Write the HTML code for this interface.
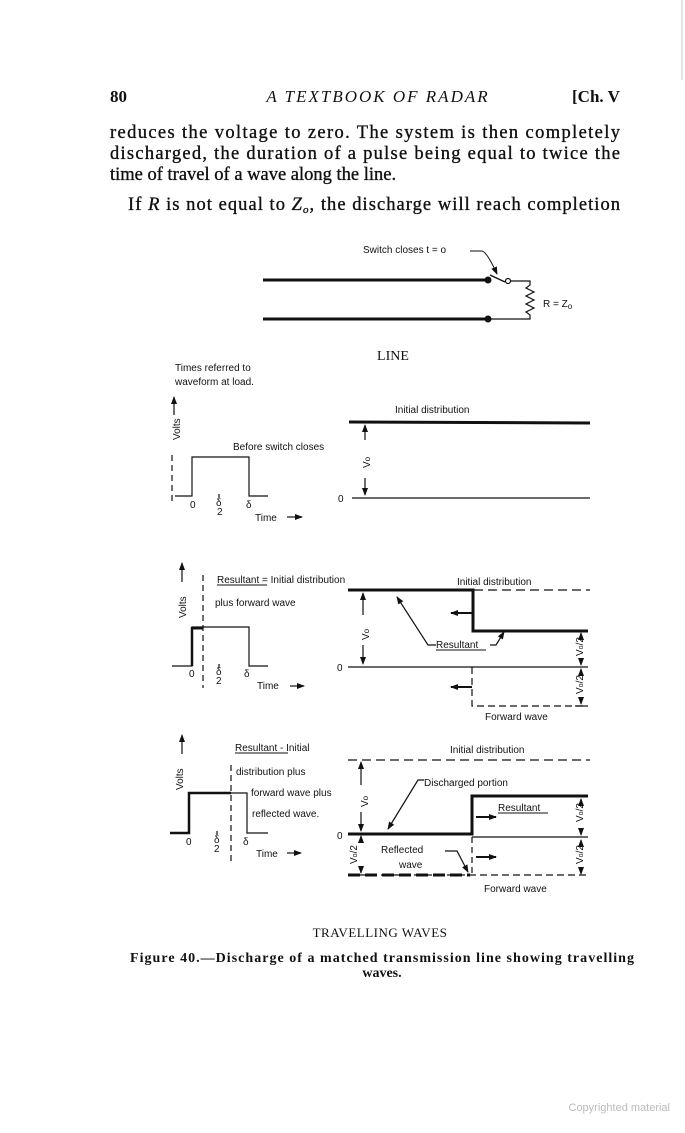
<!DOCTYPE html>
<html><head><meta charset="utf-8"><style>
html,body{margin:0;padding:0;background:#fff;}
svg{display:block;}
.s{font-family:"Liberation Serif",serif;fill:#111;}
.d{font-family:"Liberation Sans",sans-serif;fill:#111;font-size:10px;}
</style></head><body>
<svg width="685" height="1133" viewBox="0 0 685 1133" xmlns="http://www.w3.org/2000/svg">
<defs>
<marker id="a" markerWidth="8" markerHeight="8" refX="7" refY="4" orient="auto" markerUnits="userSpaceOnUse"><path d="M0,1 L8,4 L0,7 z" fill="#111"/></marker>
</defs>
<line x1="682" y1="0" x2="682" y2="80" stroke="#ccc" stroke-width="1"/>
<!-- header -->
<text class="s" x="110" y="102" font-size="17" font-weight="bold">80</text>
<text class="s" x="378" y="102" font-size="17" font-style="italic" text-anchor="middle" letter-spacing="2">A TEXTBOOK OF RADAR</text>
<text class="s" x="572" y="102" font-size="17" font-weight="bold">[Ch. V</text>
<!-- body -->
<g class="s" font-size="18.5" stroke="#111" stroke-width="0.35">
<text x="110" y="138" textLength="510" lengthAdjust="spacing">reduces the voltage to zero.  The system is then completely</text>
<text x="110" y="159" textLength="510" lengthAdjust="spacing">discharged, the duration of a pulse being equal to twice the</text>
<text x="110" y="180">time of travel of a wave along the line.</text>
<text x="128" y="210" textLength="492" lengthAdjust="spacing">If <tspan font-style="italic">R</tspan> is not equal to <tspan font-style="italic">Z<tspan font-size="11" dy="3">o</tspan></tspan><tspan dy="-3">, the discharge will reach completion</tspan></text>
</g>

<!-- circuit -->
<g stroke="#111" fill="none">
<line x1="263" y1="280" x2="488" y2="280" stroke-width="3"/>
<line x1="263" y1="319" x2="488" y2="319" stroke-width="3"/>
<circle cx="488" cy="280" r="3" fill="#111"/>
<circle cx="488" cy="319" r="3" fill="#111"/>
<line x1="490" y1="275" x2="505" y2="282" stroke-width="1.3"/>
<circle cx="508" cy="281" r="2.5" fill="#fff" stroke-width="1.2"/>
<polyline points="510,281 530,281 530,285 526,288 534,292 526,296 534,300 526,304 534,308 526,312 530,315 530,319 490,319" stroke-width="1.2"/>
<path d="M470,251 L482,251 Q487,252 497,274" stroke-width="1" marker-end="url(#a)"/>
</g>
<text class="d" x="363" y="253">Switch  closes  t = o</text>
<text class="d" x="543" y="307" font-size="11">R = Z<tspan font-size="8" dy="2">o</tspan></text>
<text class="s" x="393" y="360" font-size="14" text-anchor="middle">LINE</text>

<!-- diagram 1 -->
<text class="d" x="175" y="371">Times referred to</text>
<text class="d" x="175" y="385">waveform at load.</text>
<g stroke="#111" fill="none" stroke-width="1.2">
<line x1="174" y1="415" x2="174" y2="397" marker-end="url(#a)"/>
<line x1="172" y1="455" x2="172" y2="505" stroke-dasharray="6,4"/>
<polyline points="175,496 192,496 192,457 249,457 249,496 268,496"/>
<line x1="219" y1="494" x2="219" y2="498"/>
<line x1="349" y1="422" x2="590" y2="423" stroke-width="3"/>
<line x1="352" y1="498" x2="590" y2="498"/>
<line x1="365" y1="440" x2="365" y2="425" marker-end="url(#a)"/>
<line x1="365" y1="478" x2="365" y2="495" marker-end="url(#a)"/>
<line x1="287" y1="517" x2="302" y2="517" marker-end="url(#a)"/>
</g>
<text class="d" transform="translate(180,440) rotate(-90)">Volts</text>
<text class="d" x="233" y="450">Before switch closes</text>
<text class="d" x="190" y="508">0</text><text class="d" x="216" y="506" font-size="8">δ</text><text class="d" x="217" y="515" font-size="8">2</text><text class="d" x="246" y="508">δ</text>
<text class="d" x="255" y="521">Time</text>
<text class="d" x="395" y="413">Initial  distribution</text>
<text class="d" x="338" y="502">0</text>
<text class="d" transform="translate(370,468) rotate(-90)">V<tspan font-size="8">o</tspan></text>

<!-- diagram 2 -->
<g stroke="#111" fill="none" stroke-width="1.2">
<line x1="182" y1="582" x2="182" y2="563" marker-end="url(#a)"/>
<line x1="203" y1="575" x2="203" y2="688" stroke-dasharray="6,4"/>
<polyline points="172,666 192,666 192,627 249,627 249,666 268,666"/>
<line x1="192" y1="628" x2="203" y2="628" stroke-width="3"/>
<line x1="192" y1="627" x2="192" y2="666" stroke-width="2.5"/>
<line x1="219" y1="664" x2="219" y2="668"/>
<line x1="290" y1="686" x2="304" y2="686" marker-end="url(#a)"/>
<line x1="348" y1="590" x2="590" y2="590" stroke-dasharray="9,5"/>
<polyline points="348,590 473,590 473,631 588,631" stroke-width="3"/>
<line x1="348" y1="667" x2="588" y2="667"/>
<line x1="472" y1="613" x2="451" y2="613" stroke-width="2" marker-end="url(#a)"/>
<line x1="472" y1="687" x2="451" y2="687" stroke-width="2" marker-end="url(#a)"/>
<polyline points="472,667 472,706 588,706" stroke-dasharray="7,4"/>
<line x1="363" y1="615" x2="363" y2="593" marker-end="url(#a)"/>
<line x1="363" y1="645" x2="363" y2="664" marker-end="url(#a)"/>
<polyline points="436,645 428,645 397,597" marker-end="url(#a)"/>
<polyline points="490,645 496,645 504,632" marker-end="url(#a)"/>
<line x1="581" y1="640" x2="581" y2="633" marker-end="url(#a)"/>
<line x1="581" y1="660" x2="581" y2="665" marker-end="url(#a)"/>
<line x1="581" y1="676" x2="581" y2="669" marker-end="url(#a)"/>
<line x1="581" y1="699" x2="581" y2="704" marker-end="url(#a)"/>
<line x1="575" y1="706" x2="587" y2="706"/>
</g>
<text class="d" transform="translate(186,618) rotate(-90)">Volts</text>
<text class="d" x="217" y="583">Resultant =  Initial  distribution</text>
<line x1="217" y1="585" x2="267" y2="585" stroke="#111" stroke-width="1"/>
<text class="d" x="215" y="606">plus  forward  wave</text>
<text class="d" x="189" y="677">0</text><text class="d" x="216" y="675" font-size="8">δ</text><text class="d" x="216" y="684" font-size="8">2</text><text class="d" x="244" y="677">δ</text>
<text class="d" x="257" y="689">Time</text>
<text class="d" x="457" y="585">Initial  distribution</text>
<text class="d" x="337" y="671">0</text>
<text class="d" transform="translate(369,640) rotate(-90)">V<tspan font-size="8">o</tspan></text>
<text class="d" x="436" y="648">Resultant</text>
<line x1="436" y1="650" x2="486" y2="650" stroke="#111" stroke-width="1"/>
<text class="d" x="485" y="720">Forward  wave</text>
<text class="d" transform="translate(583,656) rotate(-90)" font-size="9">V<tspan font-size="7">o</tspan>/2</text>
<text class="d" transform="translate(583,694) rotate(-90)" font-size="9">V<tspan font-size="7">o</tspan>/2</text>

<!-- diagram 3 -->
<g stroke="#111" fill="none" stroke-width="1.2">
<line x1="182" y1="754" x2="182" y2="735" marker-end="url(#a)"/>
<line x1="231" y1="765" x2="231" y2="863" stroke-dasharray="6,4"/>
<polyline points="170,833 189,833 189,793 247,793 247,833 268,833"/>
<polyline points="170,833 189,833 189,793 231,793" stroke-width="2.5"/>
<line x1="217" y1="831" x2="217" y2="835"/>
<line x1="287" y1="853" x2="301" y2="853" marker-end="url(#a)"/>
<line x1="348" y1="760" x2="590" y2="760" stroke-dasharray="9,5"/>
<polyline points="348,834 472,834 472,796 588,796" stroke-width="3"/>
<line x1="472" y1="837" x2="588" y2="837"/>
<line x1="361" y1="785" x2="361" y2="762" marker-end="url(#a)"/>
<line x1="361" y1="812" x2="361" y2="831" marker-end="url(#a)"/>
<line x1="361" y1="840" x2="361" y2="836" marker-end="url(#a)"/>
<line x1="361" y1="866" x2="361" y2="873" marker-end="url(#a)"/>
<polyline points="424,780 418,780 388,829" marker-end="url(#a)"/>
<line x1="476" y1="817" x2="496" y2="817" stroke-width="2" marker-end="url(#a)"/>
<line x1="476" y1="857" x2="496" y2="857" stroke-width="2" marker-end="url(#a)"/>
<line x1="348" y1="875" x2="588" y2="875" stroke-dasharray="7,4"/>
<line x1="348" y1="875" x2="470" y2="875" stroke-width="3" stroke-dasharray="12,5"/>
<line x1="472" y1="837" x2="472" y2="875" stroke-dasharray="6,4"/>
<polyline points="445,851 457,851 468,872" marker-end="url(#a)"/>
<line x1="581" y1="806" x2="581" y2="799" marker-end="url(#a)"/>
<line x1="581" y1="828" x2="581" y2="835" marker-end="url(#a)"/>
<line x1="581" y1="847" x2="581" y2="840" marker-end="url(#a)"/>
<line x1="581" y1="868" x2="581" y2="874" marker-end="url(#a)"/>
</g>
<text class="d" transform="translate(183,790) rotate(-90)">Volts</text>
<text class="d" x="235" y="751">Resultant -  Initial</text>
<line x1="235" y1="753" x2="288" y2="753" stroke="#111" stroke-width="1"/>
<text class="d" x="236" y="775">distribution  plus</text>
<text class="d" x="251" y="796">forward  wave  plus</text>
<text class="d" x="252" y="817">reflected  wave.</text>
<text class="d" x="186" y="845">0</text><text class="d" x="214" y="843" font-size="8">δ</text><text class="d" x="214" y="852" font-size="8">2</text><text class="d" x="243" y="845">δ</text>
<text class="d" x="256" y="857">Time</text>
<text class="d" x="450" y="753">Initial  distribution</text>
<text class="d" x="337" y="839">0</text>
<text class="d" transform="translate(368,807) rotate(-90)">V<tspan font-size="8">o</tspan></text>
<text class="d" x="424" y="786">Discharged  portion</text>
<text class="d" x="498" y="811">Resultant</text>
<line x1="498" y1="813" x2="548" y2="813" stroke="#111" stroke-width="1"/>
<text class="d" x="381" y="853">Reflected</text>
<text class="d" x="399" y="868">wave</text>
<text class="d" x="484" y="892">Forward  wave</text>
<text class="d" transform="translate(357,864) rotate(-90)" font-size="9">V<tspan font-size="7">o</tspan>/2</text>
<text class="d" transform="translate(583,822) rotate(-90)" font-size="9">V<tspan font-size="7">o</tspan>/2</text>
<text class="d" transform="translate(583,864) rotate(-90)" font-size="9">V<tspan font-size="7">o</tspan>/2</text>

<!-- captions -->
<text class="s" x="380" y="937" font-size="13" text-anchor="middle" letter-spacing="0.5">TRAVELLING WAVES</text>
<text class="s" x="130" y="962" font-size="14" font-weight="bold" textLength="504" lengthAdjust="spacing">Figure 40.—Discharge of a matched transmission line showing travelling</text>
<text class="s" x="382" y="977" font-size="14" font-weight="bold" text-anchor="middle">waves.</text>
<text x="670" y="1111" font-family="Liberation Sans,sans-serif" font-size="11" fill="#bbb" text-anchor="end">Copyrighted material</text>
</svg>
</body></html>
